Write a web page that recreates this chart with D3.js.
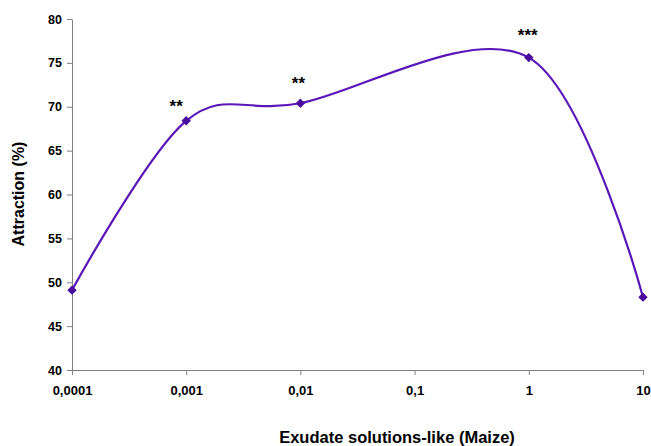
<!DOCTYPE html>
<html>
<head>
<meta charset="utf-8">
<script src="https://cdn.jsdelivr.net/npm/d3@7"></script>
<style>
  body { margin: 0; background: #fff; }
  svg { font-family: "Liberation Sans", Arial, sans-serif; }
  .axis path, .axis line { stroke: #808080; }
  .axis text { font-weight: bold; fill: #000; }
</style>
</head>
<body>
<svg id="chart" width="651" height="446"></svg>
<script>
// values
var concentrations = [0.0001, 0.001, 0.01, 1, 10];
var attraction = [49.1, 68.4, 70.4, 75.6, 48.3];
var significance = ["", "**", "**", "***", ""];
var xTicks = [0.0001, 0.001, 0.01, 0.1, 1, 10];
var xTickLabels = ["0,0001", "0,001", "0,01", "0,1", "1", "10"];
var yTicks = [40, 45, 50, 55, 60, 65, 70, 75, 80];

// where the stars sit relative to their point (layout only)
var starShift = [[0, 0], [-10, -9], [-2, -14], [-1, -16.5], [0, 0]];

var svg = d3.select("#chart");
var plotLeft = 72, plotRight = 643, plotTop = 19, plotBottom = 370;

var x = d3.scaleLog().domain([0.0001, 10]).range([plotLeft, plotRight]);
var y = d3.scaleLinear().domain([40, 80]).range([plotBottom, plotTop]);

// y axis
var yAxis = svg.append("g").attr("class", "axis").attr("transform", "translate(" + plotLeft + ",0)")
  .call(d3.axisLeft(y).tickValues(yTicks).tickSize(5).tickPadding(5).tickSizeOuter(0));
yAxis.selectAll("text").style("font-size", "12.5px");

// x axis
var xAxis = svg.append("g").attr("class", "axis").attr("transform", "translate(0," + plotBottom + ")")
  .call(d3.axisBottom(x).tickValues(xTicks).tickSize(5).tickPadding(11).tickSizeOuter(0)
    .tickFormat(function(d, i) { return xTickLabels[i]; }));
xAxis.selectAll("text").style("font-size", "13px");

// axis titles
svg.append("text").attr("x", 397).attr("y", 443).attr("text-anchor", "middle")
  .style("font-size", "16.5px").style("font-weight", "bold").text("Exudate solutions-like (Maize)");
svg.append("text").attr("transform", "translate(24,194)rotate(-90)").attr("text-anchor", "middle")
  .style("font-size", "16px").style("font-weight", "bold").text("Attraction (%)");

var pts = concentrations.map(function(c, i) { return [x(c), y(attraction[i])]; });

// smoothed line like the spreadsheet one
var line = d3.line().curve(d3.curveCardinal.tension(0));
svg.append("path").attr("d", line(pts)).attr("fill", "none")
  .attr("stroke", "#5a16b8").attr("stroke-width", 2.2);

// diamond markers
svg.selectAll(".mark").data(pts).enter().append("path").attr("class", "mark")
  .attr("transform", function(d) { return "translate(" + d[0] + "," + d[1] + ")"; })
  .attr("d", d3.symbol().type(d3.symbolDiamond2).size(56))
  .attr("fill", "#4a0c9c");

// significance stars
svg.selectAll(".star").data(pts).enter().append("text").attr("class", "star")
  .attr("x", function(d, i) { return d[0] + starShift[i][0]; })
  .attr("y", function(d, i) { return d[1] + starShift[i][1]; })
  .attr("text-anchor", "middle").style("font-size", "17px").style("font-weight", "bold")
  .text(function(d, i) { return significance[i]; });
</script>
</body>
</html>
